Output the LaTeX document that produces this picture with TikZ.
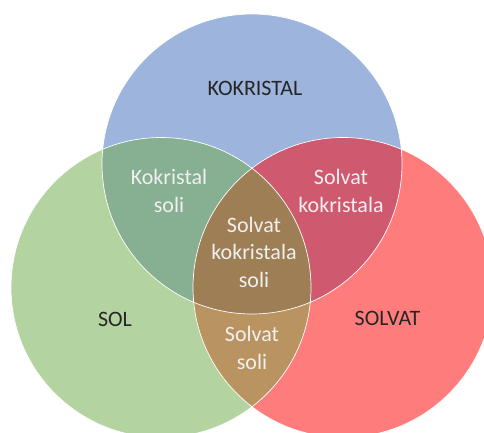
\documentclass[tikz,border=0pt]{standalone}
\usepackage{fontspec}
\setmainfont{Carlito}
\definecolor{cblue}{RGB}{157,180,220}
\definecolor{cgreen}{RGB}{179,212,160}
\definecolor{cred}{RGB}{255,124,124}
\definecolor{cgb}{RGB}{135,175,145}
\definecolor{cbr}{RGB}{207,89,111}
\definecolor{cgr}{RGB}{185,148,96}
\definecolor{call}{RGB}{158,126,85}
\begin{document}
\begin{tikzpicture}[x=1pt,y=1pt,
  lbl/.style={font=\fontsize{22}{27.5}\selectfont, text=black!85, inner sep=0pt},
  wlbl/.style={font=\fontsize{22}{27.5}\selectfont, text=white!94!black, align=center, inner sep=0pt},
  edge/.style={draw=white, line width=0.7pt}]
\useasboundingbox (0,0) rectangle (484,432);
\coordinate (B) at (252,268);
\coordinate (G) at (161,144.5);
\coordinate (R) at (343,144.5);
\def\rr{150}
% base fills
\fill[cblue] (B) circle[radius=\rr];
\fill[cgreen] (G) circle[radius=\rr];
\fill[cred] (R) circle[radius=\rr];
% pairwise overlaps
\begin{scope}
  \clip (B) circle[radius=\rr];
  \fill[cgb] (G) circle[radius=\rr];
\end{scope}
\begin{scope}
  \clip (B) circle[radius=\rr];
  \fill[cbr] (R) circle[radius=\rr];
\end{scope}
\begin{scope}
  \clip (G) circle[radius=\rr];
  \fill[cgr] (R) circle[radius=\rr];
\end{scope}
\begin{scope}
  \clip (G) circle[radius=\rr];
  \clip (R) circle[radius=\rr];
  \fill[call] (B) circle[radius=\rr];
\end{scope}
% outlines
\draw[edge] (B) circle[radius=\rr];
\draw[edge] (G) circle[radius=\rr];
\draw[edge] (R) circle[radius=\rr];
% labels
\node[lbl, anchor=base] (kok) at (255,337) {KOKRISTAL};
\node[lbl, anchor=base] (sol) at (115,106) {SOL};
\node[lbl, anchor=base] (solvat) at (387.5,107) {SOLVAT};
\node[wlbl] (ks) at (169,241) {Kokristal\\soli};
\node[wlbl] (sk) at (341,241) {Solvat\\kokristala};
\node[wlbl] (ska) at (254,180) {Solvat\\kokristala\\soli};
\node[wlbl] (ss) at (252,84) {Solvat\\soli};
\end{tikzpicture}
\end{document}
